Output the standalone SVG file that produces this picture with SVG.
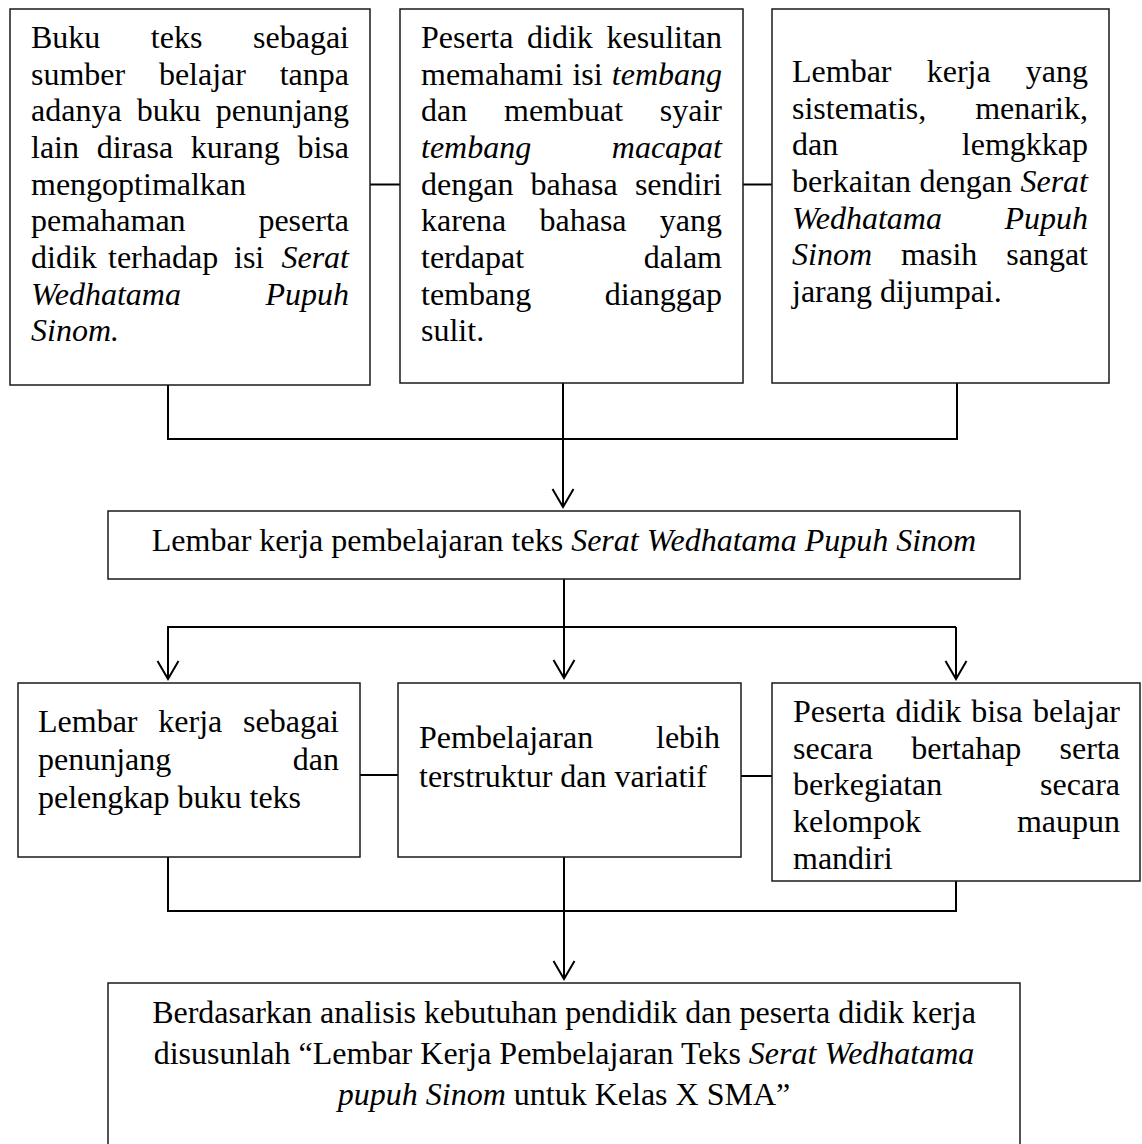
<svg xmlns="http://www.w3.org/2000/svg" width="1142" height="1144" viewBox="0 0 1142 1144">
<style>
  .box { fill: #ffffff; stroke: #1a1a1a; stroke-width: 1.5; }
  .conn { fill: none; stroke: #000000; stroke-width: 2; }
  text { font-family: "Liberation Serif", "Times New Roman", serif; font-size: 32px; fill: #000000; }
  .i { font-style: italic; }
  .e { text-anchor: end; }
  .m { text-anchor: middle; }
</style>
<defs>
  <marker id="arr" viewBox="-20 -12 22 24" refX="0" refY="0" markerWidth="22" markerHeight="24" markerUnits="userSpaceOnUse" orient="auto" overflow="visible">
    <path d="M -18 -10.5 L 0 0 L -18 10.5" fill="none" stroke="#000" stroke-width="2"/>
  </marker>
</defs>
<rect width="1142" height="1144" fill="#ffffff"/>

<g id="connectors">
  <line class="conn" x1="370" y1="184.5" x2="400" y2="184.5"/>
  <line class="conn" x1="743" y1="184.5" x2="772" y2="184.5"/>
  <path class="conn" d="M168 385 V439 H957 V383"/>
  <path class="conn" d="M563 383 V507" marker-end="url(#arr)"/>
  <path class="conn" d="M564 579 V678" marker-end="url(#arr)"/>
  <path class="conn" d="M167 627 H956"/>
  <path class="conn" d="M168 627 V679" marker-end="url(#arr)"/>
  <path class="conn" d="M956 627 V679" marker-end="url(#arr)"/>
  <line class="conn" x1="360" y1="775" x2="398" y2="775"/>
  <line class="conn" x1="741" y1="776" x2="772" y2="776"/>
  <path class="conn" d="M168 857 V911 H956 V881"/>
  <path class="conn" d="M564 857 V979" marker-end="url(#arr)"/>
</g>

<g id="node-buku-teks">
  <rect class="box" x="10" y="9" width="360" height="376"/>
  <text x="31" y="48">Buku</text><text x="150.8" y="48">teks</text><text class="e" x="349" y="48">sebagai</text>
  <text x="31" y="84.5">sumber</text><text x="158.9" y="84.5">belajar</text><text class="e" x="349" y="84.5">tanpa</text>
  <text x="31" y="121">adanya</text><text x="136.7" y="121">buku</text><text class="e" x="349" y="121">penunjang</text>
  <text x="31" y="158">lain</text><text x="96.7" y="158">dirasa</text><text x="190.8" y="158">kurang</text><text class="e" x="349" y="158">bisa</text>
  <text x="31" y="194.5">mengoptimalkan</text>
  <text x="31" y="231">pemahaman</text><text class="e" x="349" y="231">peserta</text>
  <text x="31" y="268">didik</text><text x="108" y="268">terhadap</text><text x="234" y="268">isi</text><text class="e i" x="349" y="268">Serat</text>
  <text class="i" x="31" y="304.5">Wedhatama</text><text class="e i" x="349" y="304.5">Pupuh</text>
  <text class="i" x="31" y="341">Sinom.</text>
</g>

<g id="node-kesulitan">
  <rect class="box" x="400" y="9" width="343" height="374"/>
  <text x="421" y="48">Peserta</text><text x="527" y="48">didik</text><text class="e" x="722" y="48">kesulitan</text>
  <text x="421" y="84.5">memahami</text><text x="572.4" y="84.5">isi</text><text class="e i" x="722" y="84.5">tembang</text>
  <text x="421" y="121">dan</text><text x="504" y="121">membuat</text><text class="e" x="722" y="121">syair</text>
  <text class="i" x="421" y="158">tembang</text><text class="e i" x="722" y="158">macapat</text>
  <text x="421" y="194.5">dengan</text><text x="530.6" y="194.5">bahasa</text><text class="e" x="722" y="194.5">sendiri</text>
  <text x="421" y="231">karena</text><text x="539.5" y="231">bahasa</text><text class="e" x="722" y="231">yang</text>
  <text x="421" y="268">terdapat</text><text class="e" x="722" y="268">dalam</text>
  <text x="421" y="304.5">tembang</text><text class="e" x="722" y="304.5">dianggap</text>
  <text x="421" y="341">sulit.</text>
</g>

<g id="node-lembar-kerja-jarang">
  <rect class="box" x="772" y="9" width="337" height="374"/>
  <text x="792" y="82">Lembar</text><text x="926.7" y="82">kerja</text><text class="e" x="1088" y="82">yang</text>
  <text x="792" y="118.5">sistematis,</text><text class="e" x="1088" y="118.5">menarik,</text>
  <text x="792" y="155">dan</text><text class="e" x="1088" y="155">lemgkkap</text>
  <text x="792" y="192">berkaitan</text><text x="919.5" y="192">dengan</text><text class="e i" x="1088" y="192">Serat</text>
  <text class="i" x="792" y="228.5">Wedhatama</text><text class="e i" x="1088" y="228.5">Pupuh</text>
  <text class="i" x="792" y="265">Sinom</text><text x="900.9" y="265">masih</text><text class="e" x="1088" y="265">sangat</text>
  <text x="792" y="302">jarang dijumpai.</text>
</g>

<g id="node-lembar-kerja-pembelajaran">
  <rect class="box" x="108" y="511" width="912" height="68"/>
  <text class="m" x="564" y="551">Lembar kerja pembelajaran teks <tspan class="i">Serat Wedhatama Pupuh Sinom</tspan></text>
</g>

<g id="node-penunjang">
  <rect class="box" x="18" y="683" width="342" height="174"/>
  <text x="38" y="731.7">Lembar</text><text x="158.3" y="731.7">kerja</text><text class="e" x="339" y="731.7">sebagai</text>
  <text x="38" y="770">penunjang</text><text class="e" x="339" y="770">dan</text>
  <text x="38" y="808.3">pelengkap buku teks</text>
</g>

<g id="node-terstruktur">
  <rect class="box" x="398" y="683" width="343" height="174"/>
  <text x="419" y="748.3">Pembelajaran</text><text class="e" x="720" y="748.3">lebih</text>
  <text x="419" y="786.7">terstruktur dan variatif</text>
</g>

<g id="node-bertahap">
  <rect class="box" x="772" y="683" width="368" height="198"/>
  <text x="793" y="721.7">Peserta</text><text x="895.4" y="721.7">didik</text><text x="971.2" y="721.7">bisa</text><text class="e" x="1120" y="721.7">belajar</text>
  <text x="793" y="758.5">secara</text><text x="911.2" y="758.5">bertahap</text><text class="e" x="1120" y="758.5">serta</text>
  <text x="793" y="795.3">berkegiatan</text><text class="e" x="1120" y="795.3">secara</text>
  <text x="793" y="832">kelompok</text><text class="e" x="1120" y="832">maupun</text>
  <text x="793" y="868.7">mandiri</text>
</g>

<g id="node-kesimpulan">
  <rect class="box" x="108" y="983" width="912" height="175"/>
  <text class="m" x="564" y="1022.7">Berdasarkan analisis kebutuhan pendidik dan peserta didik kerja</text>
  <text class="m" x="564" y="1064">disusunlah “Lembar Kerja Pembelajaran Teks <tspan class="i">Serat Wedhatama</tspan></text>
  <text class="m" x="564" y="1105"><tspan class="i">pupuh Sinom</tspan> untuk Kelas X SMA”</text>
</g>
</svg>
